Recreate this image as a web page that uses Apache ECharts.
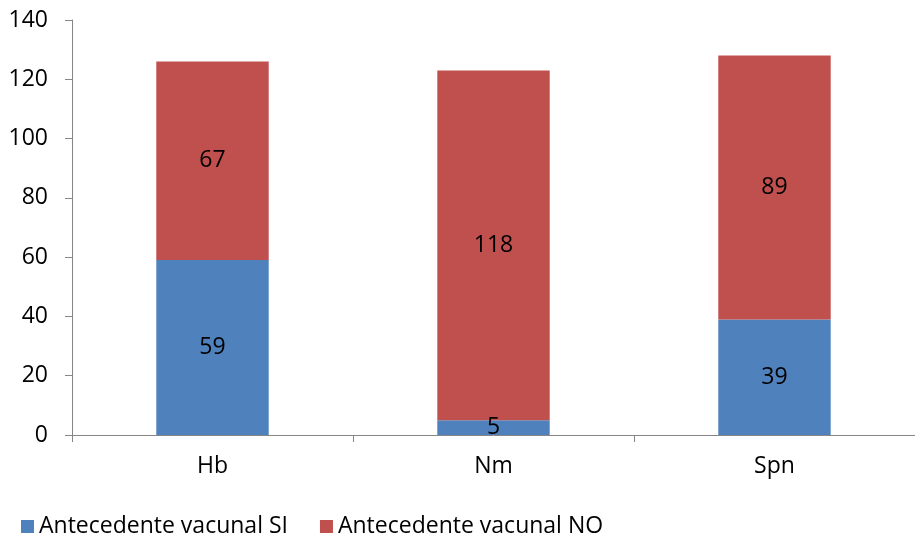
<!DOCTYPE html>
<html>
<head>
<meta charset="utf-8">
<script src="https://cdn.jsdelivr.net/npm/echarts@6/dist/echarts.min.js"></script>
<style>
  html, body { margin: 0; padding: 0; background: #fff; }
  #chart { width: 915px; height: 535px; }
</style>
</head>
<body>
<div id="chart"></div>
<script>
// Agent categories and vaccination-history counts
const categories = ['Hb', 'Nm', 'Spn'];
const vacunalSI = [59, 5, 39];
const vacunalNO = [67, 118, 89];
const seriesNames = ['Antecedente vacunal SI', 'Antecedente vacunal NO'];

const FONT = '"Open Sans", sans-serif';
const FS = 23;
const AXIS_GREY = '#868686';

const chart = echarts.init(document.getElementById('chart'), null, { renderer: 'canvas' });

const labelStyle = {
  show: true,
  position: 'inside',
  color: '#000',
  fontSize: FS,
  fontFamily: FONT
};

chart.setOption({
  animation: false,
  textStyle: { fontFamily: FONT },
  // plot area runs slightly past the right edge of the canvas
  grid: { left: 72, top: 20, width: 849, height: 415 },
  legend: {
    left: 16,
    top: 510,
    itemWidth: 13,
    itemHeight: 13,
    itemGap: 32,
    icon: 'rect',
    textStyle: { fontSize: 23, color: '#000', fontFamily: FONT },
    data: seriesNames
  },
  xAxis: {
    type: 'category',
    data: categories,
    axisLine: { lineStyle: { color: AXIS_GREY, width: 1 } },
    axisTick: { show: true, length: 7, alignWithLabel: false, lineStyle: { color: AXIS_GREY } },
    axisLabel: { color: '#000', fontSize: FS, margin: 20, fontFamily: FONT }
  },
  yAxis: {
    type: 'value',
    min: 0,
    max: 140,
    interval: 20,
    axisLine: { show: true, lineStyle: { color: AXIS_GREY, width: 1 } },
    axisTick: { show: true, length: 7, lineStyle: { color: AXIS_GREY } },
    splitLine: { show: false },
    axisLabel: { color: '#000', fontSize: FS, margin: 24, fontFamily: FONT }
  },
  series: [
    {
      name: seriesNames[0],
      type: 'bar',
      stack: 'total',
      barWidth: '40%',
      data: vacunalSI,
      itemStyle: { color: '#4F81BD' },
      label: labelStyle
    },
    {
      name: seriesNames[1],
      type: 'bar',
      stack: 'total',
      barWidth: '40%',
      data: vacunalNO,
      itemStyle: { color: '#C0504D' },
      label: labelStyle
    }
  ]
});
</script>
</body>
</html>
